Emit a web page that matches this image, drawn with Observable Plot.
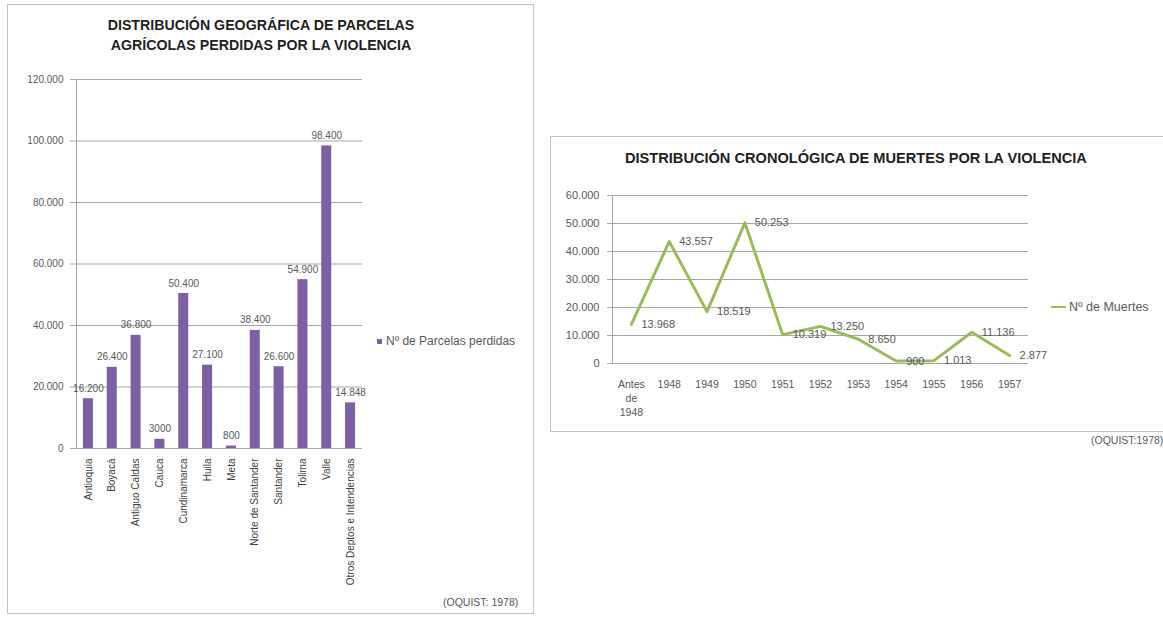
<!DOCTYPE html>
<html>
<head>
<meta charset="utf-8">
<script src="https://cdn.jsdelivr.net/npm/d3@7"></script>
<script src="https://cdn.jsdelivr.net/npm/@observablehq/plot@0.6"></script>
<style>
  html, body { margin: 0; padding: 0; background: #fff; }
  body { width: 1163px; height: 617px; position: relative; overflow: hidden;
         font-family: "Liberation Sans", Arial, sans-serif; color: #595959; }
  .box { position: absolute; border: 1.5px solid #c4c4c4; box-sizing: border-box; }
  .title { position: absolute; font-weight: bold; color: #1f1f1f;
           text-align: center; line-height: 20px; white-space: nowrap; }
  .legend { position: absolute; white-space: nowrap; display: flex; align-items: center; }
  .source { position: absolute; font-size: 10.5px; color: #595959; white-space: nowrap; }
  svg.chart { position: absolute; }
</style>
</head>
<body>
<div class="box" style="left:7px;top:4px;width:527px;height:610px"></div>
<div class="box" style="left:550px;top:136px;width:640px;height:296px"></div>

<div class="title" style="left:7px;top:15px;width:508px;font-size:14.2px">DISTRIBUCIÓN GEOGRÁFICA DE PARCELAS<br>AGRÍCOLAS PERDIDAS POR LA VIOLENCIA</div>
<div class="title" style="left:625px;top:148px;font-size:14.6px">DISTRIBUCIÓN CRONOLÓGICA DE MUERTES POR LA VIOLENCIA</div>

<div class="legend" style="left:377px;top:334px;font-size:12px">
  <span style="display:inline-block;width:5px;height:5px;background:#7d5fa6;margin-right:4px"></span>Nº de Parcelas perdidas
</div>
<div class="legend" style="left:1051px;top:300px;font-size:12.5px">
  <span style="display:inline-block;width:15px;height:2px;background:#9bbb59;margin-right:3px"></span>Nº de Muertes
</div>

<div class="source" style="left:443px;top:596px">(OQUIST: 1978)</div>
<div class="source" style="left:1091px;top:434px">(OQUIST:1978)</div>

<script>
// Parcelas agrícolas perdidas, por departamento
const departamentos = ["Antioquia", "Boyacá", "Antiguo Caldas", "Cauca", "Cundinamarca", "Huila", "Meta",
  "Norte de Santander", "Santander", "Tolima", "Valle", "Otros Deptos e Intendencias"];
const parcelas = [16200, 26400, 36800, 3000, 50400, 27100, 800, 38400, 26600, 54900, 98400, 14848];
const parcelasEtiquetas = ["16.200", "26.400", "36.800", "3000", "50.400", "27.100", "800", "38.400",
  "26.600", "54.900", "98.400", "14.848"];
const parcelasTicks = [0, 20000, 40000, 60000, 80000, 100000, 120000];

// Muertes por la violencia, por año
const periodos = ["Antes de 1948", "1948", "1949", "1950", "1951", "1952", "1953", "1954", "1955", "1956", "1957"];
const muertes = [13968, 43557, 18519, 50253, 10319, 13250, 8650, 900, 1013, 11136, 2877];
const muertesTicks = [0, 10000, 20000, 30000, 40000, 50000, 60000];

const miles = d3.formatLocale({decimal: ",", thousands: ".", grouping: [3], currency: ["", ""]}).format(",d");

const gris = "#a6a6a6";
const morado = "#7d5fa6";
const verde = "#9bbb59";

// Gráfico de barras: parcelas perdidas
const barras = Plot.plot({
  width: 370,
  height: 550,
  marginLeft: 76,
  marginRight: 8,
  marginTop: 19,
  marginBottom: 162,
  style: {fontFamily: "Liberation Sans, Arial, sans-serif", fontSize: "10px", color: "#595959", background: "transparent"},
  x: {domain: departamentos, paddingInner: 0.58, paddingOuter: 0.29, round: false, label: null},
  y: {domain: [0, 120000], label: null},
  marks: [
    Plot.gridY(parcelasTicks, {stroke: gris, strokeOpacity: 1}),
    Plot.axisY(parcelasTicks, {tickSize: 6, tickPadding: 7, tickFormat: miles, stroke: gris, fill: "#595959", label: null}),
    Plot.frame({anchor: "left", stroke: gris}),
    Plot.ruleY([0], {stroke: gris}),
    Plot.barY(parcelas, {x: departamentos, y: parcelas, fill: morado}),
    Plot.text(parcelas, {x: departamentos, y: parcelas, text: parcelasEtiquetas, dy: -7, lineAnchor: "bottom", fontSize: 10, fill: "#595959"}),
    Plot.axisX({tickRotate: -90, tickSize: 0, tickPadding: 10, fill: "#404040", fontSize: 10, label: null})
  ]
});
barras.classList.add("chart");
barras.style.left = "0px";
barras.style.top = "60px";
document.body.appendChild(barras);

// Gráfico de línea: muertes por año
const linea = Plot.plot({
  width: 500,
  height: 260,
  marginLeft: 62,
  marginRight: 22,
  marginTop: 25,
  marginBottom: 67,
  style: {fontFamily: "Liberation Sans, Arial, sans-serif", fontSize: "10.5px", color: "#595959", background: "transparent"},
  x: {type: "band", domain: periodos, padding: 0, round: false, label: null},
  y: {domain: [0, 60000], label: null},
  marks: [
    Plot.gridY(muertesTicks, {stroke: gris, strokeOpacity: 1}),
    Plot.axisY(muertesTicks, {tickSize: 5, tickPadding: 8, tickFormat: miles, stroke: gris, fill: "#595959", fontSize: 11, label: null}),
    Plot.frame({anchor: "left", stroke: gris}),
    Plot.ruleY([0], {stroke: gris}),
    Plot.lineY(muertes, {x: periodos, y: muertes, stroke: verde, strokeWidth: 3}),
    Plot.text(muertes, {x: periodos, y: muertes, text: muertes.map(miles), dx: 10, textAnchor: "start", fontSize: 11, fill: "#595959"}),
    Plot.axisX({tickSize: 0, tickPadding: 14, lineAnchor: "top", lineHeight: 1.35, fill: "#595959",
      tickFormat: (d) => d.replace(/ /g, "\n"), label: null})
  ]
});
linea.classList.add("chart");
linea.style.left = "550px";
linea.style.top = "170px";
document.body.appendChild(linea);
</script>
</body>
</html>
